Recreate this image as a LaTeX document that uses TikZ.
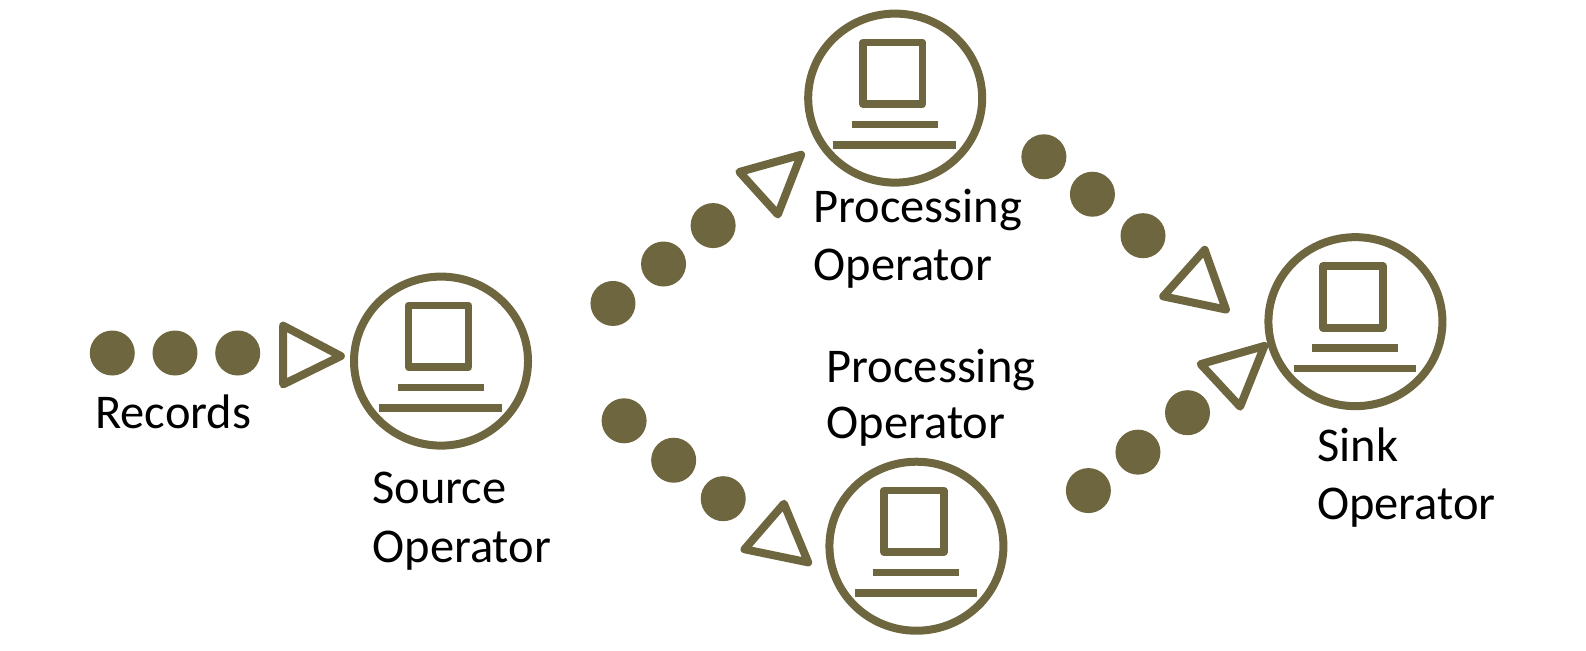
\documentclass[tikz,border=0pt]{standalone}
\usepackage{fontspec}
\setmainfont{Carlito}
\usetikzlibrary{calc,shapes.geometric}
\definecolor{olive}{HTML}{6E663E}
\tikzset{
  x=1.0115pt,y=-1.0115pt,
  dot/.style={circle,fill=olive,draw=none,minimum size=45pt,inner sep=0pt},
  opcircle/.style={ellipse,draw=olive,line width=8pt,minimum width=174pt,minimum height=169pt,inner sep=0pt},
  part/.style={draw=olive,line width=7.6pt},
  tri/.style={draw=olive,line width=8pt,line join=round},
  lab/.style={anchor=base west,inner sep=0pt,font=\fontsize{48.5}{57}\selectfont,text=black},
}
\newcommand{\operatoricon}[3]{%
  \node[opcircle] (#1) at (#2,#3) {};%
  \draw[part,line join=round] ($(#1)+(-32,-55)$) rectangle ($(#1)+(27,6)$);%
  \draw[part] ($(#1)+(-42.5,26)$) -- ($(#1)+(42.5,26)$);%
  \draw[part] ($(#1)+(-61,46.5)$) -- ($(#1)+(60,46.5)$);%
}
\begin{document}
\begin{tikzpicture}
\useasboundingbox (0pt,0pt) rectangle (1586pt,-650pt);
\fill[white] (0pt,0pt) rectangle (1586pt,-650pt);
\operatoricon{src}{436}{357}
\operatoricon{top}{885}{97}
\operatoricon{bot}{906}{540}
\operatoricon{sink}{1340}{318}
\foreach \n/\x/\y in {a1/111/349,a2/173/349,a3/235/349,
  b1/606/300,b2/656/261,b3/705/223,
  c1/1032/155,c2/1080/192,c3/1130/233,
  d1/617/416,d2/666/455,d3/715/493,
  e1/1076/485,e2/1125/447,e3/1174/408}
  \node[dot] (\n) at (\x,\y) {};
\draw[tri] (280,322) -- (337,352) -- (280,380) -- cycle;
\draw[tri] (792,153) -- (731,170) -- (769,212) -- cycle;
\draw[tri] (1191,247) -- (1150,293) -- (1212,306) -- cycle;
\draw[tri] (1250,342) -- (1187,360) -- (1226,402) -- cycle;
\draw[tri] (775,498) -- (736,543) -- (799,556) -- cycle;
\node[lab] (records) at (94,424) {Records};
\node[lab] (s1) at (368,498) {Source};
\node[lab] (s2) at (368,556) {Operator};
\node[lab] (p1) at (804,220) {Processing};
\node[lab] (p2) at (804,277) {Operator};
\node[lab] (q1) at (817,378) {Processing};
\node[lab] (q2) at (817,434) {Operator};
\node[lab] (k1) at (1302,456) {Sink};
\node[lab] (k2) at (1302,514) {Operator};
\end{tikzpicture}
\end{document}
